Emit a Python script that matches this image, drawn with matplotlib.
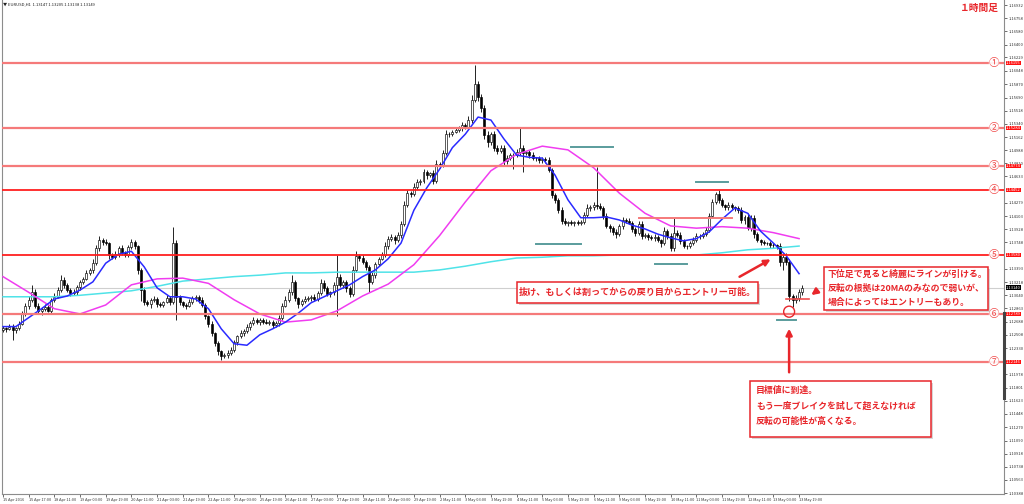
import numpy as np
import matplotlib
matplotlib.use("Agg")
import matplotlib.pyplot as plt
import matplotlib.transforms as mtransforms
from matplotlib.patches import Rectangle, Ellipse

plt.rcParams['font.family'] = ['Noto Sans CJK JP', 'DejaVu Sans']

# ---------------- data (EURUSD, 2 bars per label step of 16h) ----------------
title_text = "▼ EURUSD,H1  1.13147 1.13205 1.13138 1.13149"

first_open = 1.1258
closes = [
    1.1260, 1.1259, 1.1262, 1.1258, 1.1260, 1.1266, 1.1279, 1.1290, 1.1298, 1.1308,
    1.1290, 1.1283, 1.1286, 1.1288, 1.1283, 1.1298, 1.1302, 1.1311, 1.1325, 1.1318,
    1.1311, 1.1307, 1.1308, 1.1315, 1.1322, 1.1326, 1.1334, 1.1338, 1.1347, 1.1367,
    1.1378, 1.1375, 1.1374, 1.1358, 1.1355, 1.1359, 1.1367, 1.1361, 1.1358, 1.1369,
    1.1375, 1.1370, 1.1338, 1.1311, 1.1295, 1.1292, 1.1298, 1.1299, 1.1292, 1.1291,
    1.1295, 1.1300, 1.1295, 1.1374, 1.1302, 1.1295, 1.1291, 1.1290, 1.1295, 1.1300,
    1.1302, 1.1298, 1.1291, 1.1276, 1.1266, 1.1253, 1.1240, 1.1229, 1.1223, 1.1224,
    1.1227, 1.1231, 1.1241, 1.1249, 1.1253, 1.1256, 1.1262, 1.1267, 1.1271, 1.1268,
    1.1271, 1.1268, 1.1267, 1.1268, 1.1264, 1.1267, 1.1274, 1.1290, 1.1298, 1.1308,
    1.1322, 1.1300, 1.1292, 1.1296, 1.1299, 1.1300, 1.1302, 1.1299, 1.1307, 1.1321,
    1.1314, 1.1306, 1.1308, 1.1318, 1.1329, 1.1318, 1.1322, 1.1314, 1.1306, 1.1338,
    1.1357, 1.1354, 1.1349, 1.1342, 1.1322, 1.1331, 1.1346, 1.1353, 1.1358, 1.1370,
    1.1380, 1.1382, 1.1378, 1.1385, 1.1400, 1.1425, 1.1441, 1.1440, 1.1449, 1.1456,
    1.1457, 1.1469, 1.1465, 1.1468, 1.1457, 1.1480, 1.1479, 1.1495, 1.1520, 1.1520,
    1.1523, 1.1526, 1.1528, 1.1532, 1.1530, 1.1539, 1.1566, 1.1587, 1.1570, 1.1555,
    1.1519, 1.1509, 1.1520, 1.1502, 1.1498, 1.1502, 1.1484, 1.1488, 1.1492, 1.1492,
    1.1496, 1.1502, 1.1495, 1.1496, 1.1492, 1.1488, 1.1488, 1.1485, 1.1487, 1.1485,
    1.1472, 1.1439, 1.1432, 1.1418, 1.1404, 1.1401, 1.1402, 1.1401, 1.1402, 1.1401,
    1.1402, 1.1412, 1.1421, 1.1422, 1.1425, 1.1424, 1.1421, 1.1410, 1.1397, 1.1394,
    1.1389, 1.1386, 1.1397, 1.1405, 1.1404, 1.1401, 1.1393, 1.1388, 1.1400, 1.1384,
    1.1385, 1.1382, 1.1381, 1.1382, 1.1378, 1.1374, 1.1390, 1.1384, 1.1367, 1.1388,
    1.1385, 1.1377, 1.1370, 1.1370, 1.1374, 1.1378, 1.1384, 1.1384, 1.1386, 1.1392,
    1.1410, 1.1429, 1.1440, 1.1432, 1.1425, 1.1422, 1.1425, 1.1422, 1.1421, 1.1418,
    1.1405, 1.1409, 1.1394, 1.1408, 1.1386, 1.1378, 1.1375, 1.1374, 1.1374, 1.1371,
    1.1371, 1.1370, 1.1349, 1.1355, 1.1349, 1.1303, 1.1298, 1.1300, 1.1308, 1.1314,
]
# wick lengths in pips beyond the candle body
wick_up = [
    3, 2, 4, 3, 2, 3, 4, 3, 5, 10,
    4, 3, 2, 4, 3, 3, 5, 4, 6, 3,
    2, 3, 4, 3, 2, 3, 4, 3, 5, 4,
    6, 3, 4, 2, 3, 4, 3, 5, 2, 3,
    4, 3, 2, 3, 4, 3, 2, 4, 3, 3,
    2, 4, 3, 22, 4, 3, 2, 3, 4, 3,
    3, 2, 4, 3, 2, 3, 2, 3, 2, 3,
    3, 4, 3, 2, 4, 3, 3, 2, 4, 3,
    3, 2, 4, 3, 3, 2, 3, 4, 5, 4,
    9, 3, 2, 3, 4, 3, 2, 4, 3, 5,
    4, 3, 2, 4, 29, 4, 3, 2, 3, 5,
    6, 3, 4, 2, 3, 4, 3, 3, 4, 5,
    3, 4, 3, 4, 3, 5, 4, 3, 5, 4,
    3, 4, 3, 2, 4, 5, 3, 4, 6, 3,
    3, 4, 3, 4, 3, 5, 6, 26, 5, 4,
    4, 5, 3, 4, 3, 4, 3, 4, 3, 3,
    4, 26, 3, 2, 3, 4, 2, 3, 2, 3,
    4, 3, 2, 3, 4, 3, 2, 3, 2, 3,
    3, 4, 5, 3, 4, 51, 4, 3, 4, 3,
    3, 4, 3, 4, 3, 4, 3, 2, 4, 3,
    3, 2, 3, 4, 3, 2, 5, 3, 4, 20,
    3, 4, 3, 2, 3, 4, 3, 2, 3, 4,
    5, 4, 3, 5, 3, 2, 4, 3, 2, 3,
    4, 3, 5, 3, 4, 3, 2, 3, 2, 3,
    3, 2, 4, 5, 6, 4, 3, 4, 5, 4,
]
wick_dn = [
    3, 4, 2, 14, 4, 3, 2, 3, 4, 3,
    3, 4, 5, 3, 2, 4, 3, 2, 3, 4,
    3, 4, 2, 3, 4, 3, 2, 3, 4, 3,
    3, 4, 3, 5, 3, 2, 4, 3, 3, 2,
    3, 4, 6, 15, 4, 3, 5, 3, 4, 3,
    3, 2, 4, 3, 31, 4, 3, 5, 2, 3,
    3, 4, 3, 4, 5, 3, 4, 5, 6, 3,
    4, 3, 3, 4, 2, 3, 3, 4, 3, 2,
    4, 3, 2, 3, 4, 3, 4, 3, 2, 3,
    3, 4, 5, 3, 2, 3, 4, 3, 3, 2,
    4, 3, 4, 3, 42, 3, 4, 5, 4, 3,
    3, 4, 3, 4, 14, 3, 4, 3, 2, 3,
    4, 3, 5, 3, 4, 3, 2, 4, 3, 3,
    4, 3, 5, 3, 4, 3, 4, 3, 3, 4,
    3, 2, 3, 4, 3, 3, 4, 3, 6, 5,
    5, 6, 4, 5, 4, 3, 5, 4, 3, 18,
    3, 4, 25, 3, 4, 3, 4, 3, 4, 3,
    3, 5, 4, 3, 5, 3, 4, 3, 4, 3,
    3, 2, 3, 4, 3, 4, 3, 4, 3, 5,
    4, 5, 3, 4, 3, 2, 4, 5, 3, 4,
    3, 4, 3, 4, 3, 5, 3, 4, 3, 4,
    3, 4, 3, 4, 3, 2, 3, 4, 3, 2,
    3, 2, 3, 4, 3, 4, 3, 2, 4, 3,
    4, 5, 3, 4, 5, 3, 4, 3, 3, 4,
    3, 4, 6, 11, 5, 6, 10, 4, 3, 4,
]

# moving averages (fast: every 4 bars, others every 8 bars)
ma_fast = [
    1.1262, 1.1262, 1.1274, 1.1286, 1.1299, 1.1303, 1.1311, 1.1322, 1.1347, 1.1359,
    1.1363, 1.1342, 1.1314, 1.1302, 1.1302, 1.1299, 1.1286, 1.1259, 1.1239, 1.1237,
    1.1251, 1.1259, 1.1268, 1.1280, 1.1294, 1.1302, 1.1310, 1.1318, 1.1329, 1.1338,
    1.1353, 1.1374, 1.1418, 1.1448, 1.1473, 1.1502, 1.1520, 1.1543, 1.1539, 1.1514,
    1.1492, 1.1489, 1.1488, 1.1465, 1.1432, 1.1408, 1.1408, 1.1409, 1.1405, 1.1398,
    1.1393, 1.1386, 1.1381, 1.1377, 1.1380, 1.1389, 1.1406, 1.1421, 1.1414, 1.1390,
    1.1374, 1.1357, 1.1333,
]
ma_mid = [
    1.1329, 1.1308, 1.1286, 1.1279, 1.1291, 1.1318, 1.1326, 1.1327, 1.1320, 1.1298,
    1.1279, 1.1268, 1.1271, 1.1283, 1.1303, 1.1319, 1.1345, 1.1384, 1.1429, 1.1471,
    1.1493, 1.1504, 1.1499, 1.1475, 1.1441, 1.1414, 1.1397, 1.1394, 1.1396, 1.1394,
    1.1388, 1.1380,
]
ma_slow = [
    1.1302, 1.1302, 1.1302, 1.1304, 1.1307, 1.1310, 1.1316, 1.1323, 1.1326, 1.1329,
    1.1331, 1.1334, 1.1334, 1.1335, 1.1335, 1.1335, 1.1335, 1.1338, 1.1343, 1.1349,
    1.1354, 1.1355, 1.1357, 1.1357, 1.1358, 1.1358, 1.1358, 1.1358, 1.1361, 1.1365,
    1.1367, 1.1370,
]

levels = [1.16155, 1.15284, 1.14774, 1.14452, 1.13580, 1.12789, 1.12146]
level_names = ['①', '②', '③', '④', '⑤', '⑥', '⑦']

# right axis scale labels (the ones hidden under the level tags are left out)
price_ticks = [
    1.16932, 1.16758, 1.16580, 1.16400, 1.16229, 1.16048, 1.15870, 1.15690,
    1.15518, 1.15340, 1.15162, 1.14988, 1.14810, 1.14633, 1.14279,
    1.14103, 1.13928, 1.13748, 1.13393, 1.13218, 1.13040, 1.12863,
    1.12688, 1.12508, 1.12330, 1.11978, 1.11801, 1.11623, 1.11448,
    1.11270, 1.11090, 1.10918, 1.10738, 1.10563, 1.10388,
]
time_labels = [
    "15 Apr 2016", "15 Apr 17:00", "18 Apr 11:00", "19 Apr 03:00", "19 Apr 19:00",
    "20 Apr 11:00", "21 Apr 03:00", "21 Apr 19:00", "22 Apr 11:00", "25 Apr 03:00",
    "25 Apr 19:00", "26 Apr 11:00", "27 Apr 03:00", "27 Apr 19:00", "28 Apr 11:00",
    "29 Apr 03:00", "29 Apr 19:00", "2 May 11:00", "3 May 03:00", "3 May 19:00",
    "4 May 11:00", "5 May 03:00", "5 May 19:00", "6 May 11:00", "9 May 03:00",
    "9 May 19:00", "10 May 11:00", "11 May 03:00", "11 May 19:00", "12 May 11:00",
    "13 May 03:00", "13 May 19:00",
]

# hand drawn support / resistance marks: (price, first bar, last bar)
teal_marks = [(1.1373, 166, 180), (1.1503, 177, 190), (1.1346, 203, 213),
              (1.1456, 216, 226), (1.1271, 241, 247)]
pink_mark = (1.1408, 198, 227)
small_mark = (1.1299, 244, 251)

box1_text = "抜け、もしくは割ってからの戻り目からエントリー可能。"
box2_lines = ["下位足で見ると綺麗にラインが引ける。",
              "反転の根拠は20MAのみなので弱いが、",
              "場合によってはエントリーもあり。"]
box3_lines = ["目標値に到達。",
              "もう一度ブレイクを試して超えなければ",
              "反転の可能性が高くなる。"]

# ---------------- figure ----------------
W, H = 1024, 504
red = '#e8262b'
fig = plt.figure(figsize=(W / 100, H / 100), dpi=100)
ax = fig.add_axes([2 / W, 10 / H, 1002 / W, 494 / H])
ax.set_xlim(-0.31, 311.84)
ax.set_ylim(1.10375, 1.17)

n = len(closes)
x = np.arange(n)
c = np.array(closes)
o = np.array([first_open] + closes[:-1])
hi = np.maximum(o, c) + np.array(wick_up) * 0.0001
lo = np.minimum(o, c) - np.array(wick_dn) * 0.0001
up = c >= o

ax.vlines(x, lo, hi, color='black', lw=0.6, zorder=3)
ax.bar(x[up], (c - o)[up], bottom=o[up], width=0.62, color='white',
       edgecolor='black', lw=0.45, zorder=3.5)
ax.bar(x[~up], (o - c)[~up], bottom=c[~up], width=0.62, color='black',
       edgecolor='black', lw=0.45, zorder=3.5)

# moving averages
ax.plot(np.arange(len(ma_slow)) * 8, ma_slow, color='#4fe3e8', lw=1.1, zorder=4)
ax.plot(np.arange(len(ma_mid)) * 8, ma_mid, color='#f03cf0', lw=1.1, zorder=4)
ax.plot(np.arange(len(ma_fast)) * 4, ma_fast, color='#2a2aff', lw=1.1, zorder=4)

# current price line
ax.axhline(closes[-1], color='#cfcfcf', lw=0.8, zorder=2)

# horizontal levels
bright = [False, False, False, True, True, False, False]
blend = mtransforms.blended_transform_factory(ax.transAxes, ax.transData)
for lv, name, b in zip(levels, level_names, bright):
    col = '#ff2020' if b else '#f57a7a'
    ax.axhline(lv, color=col, lw=1.3 if b else 1.6, zorder=5)
    ax.text(0.990, lv, name, transform=blend, ha='center', va='center',
            fontsize=7.5, color='#f04848', zorder=7,
            bbox=dict(boxstyle='circle,pad=0.0', fc='white', ec='none', alpha=0.9))
    ax.text(1.002, lv, f'{lv:.5f}', transform=blend, ha='left', va='center',
            fontsize=3.0, color='white', zorder=8, clip_on=False,
            bbox=dict(boxstyle='square,pad=0.1', fc='#ff1010', ec='none'))

ax.text(1.002, closes[-1], f'{closes[-1]:.5f}', transform=blend, ha='left',
        va='center', fontsize=3.0, color='white', zorder=8, clip_on=False,
        bbox=dict(boxstyle='square,pad=0.1', fc='black', ec='none'))
ax.plot([1.0, 1.0], [1.1280, 1.1166], transform=blend, color='#444444',
        lw=2.2, clip_on=False, zorder=6)

for lv, a, b in teal_marks:
    ax.plot([a, b], [lv, lv], color='#5a9c9c', lw=1.4, zorder=5)
ax.plot([pink_mark[1], pink_mark[2]], [pink_mark[0]] * 2, color='#f57a7a', lw=1.4, zorder=5)
ax.plot([small_mark[1], small_mark[2]], [small_mark[0]] * 2, color='#f05050', lw=1.2, zorder=6)

# arrows and circle
arrow = dict(arrowstyle='-|>', color=red, lw=1.8, mutation_scale=9)
ax.annotate('', xy=(239.9, 1.1354), xytext=(228.7, 1.1327), arrowprops=arrow, zorder=9)
ax.annotate('', xy=(251.1, 1.1302), xytext=(253.9, 1.1311), arrowprops=arrow, zorder=9)
ax.annotate('', xy=(244.9, 1.1263), xytext=(244.9, 1.1197), arrowprops=arrow, zorder=9)
ax.add_patch(Ellipse((244.9, 1.1282), 3.4, 0.00148, fill=False, ec=red, lw=1.0, zorder=9))

# axes styling
for s in ['left', 'right', 'bottom']:
    ax.spines[s].set_color('#8c8c8c')
    ax.spines[s].set_linewidth(0.8)
ax.spines['top'].set_visible(False)
ax.yaxis.tick_right()
ax.set_yticks(price_ticks)
ax.set_yticklabels([f'{v:.5f}' for v in price_ticks])
ax.tick_params(axis='y', labelsize=3.0, length=2, width=0.5, pad=1.5, colors='#333333')
ax.set_xticks(np.arange(len(time_labels)) * 8)
ax.set_xticklabels(time_labels, ha='left')
ax.tick_params(axis='x', labelsize=2.8, length=2, width=0.5, pad=1, colors='#333333')

fig.text(3 / W, 1 - 4 / H, title_text, fontsize=3.0, va='center', ha='left', color='#222222')
fig.text(979 / W, 1 - 8 / H, '１時間足', fontsize=7, fontweight='bold', color=red,
         ha='center', va='center')


def note_box(x0, y0, x1, y1):
    fig.add_artist(Rectangle(((x0 + 2) / W, 1 - (y1 + 2) / H), (x1 - x0) / W, (y1 - y0) / H,
                             transform=fig.transFigure, fc='#b0b0b0', ec='none', alpha=0.5))
    fig.add_artist(Rectangle((x0 / W, 1 - y1 / H), (x1 - x0) / W, (y1 - y0) / H,
                             transform=fig.transFigure, fc='white', ec=red, lw=1.1))


note_box(517, 282, 758, 303)
fig.text(637.5 / W, 1 - 292.5 / H, box1_text, fontsize=6.6, fontweight='bold',
         color=red, ha='center', va='center')

note_box(824, 267, 988, 310)
for line, yy in zip(box2_lines, [274, 288, 302]):
    fig.text(828 / W, 1 - yy / H, line, fontsize=6.4, fontweight='bold',
             color=red, ha='left', va='center')

note_box(750, 381, 931, 437)
for line, yy in zip(box3_lines, [390, 406, 421]):
    fig.text(756 / W, 1 - yy / H, line, fontsize=6.4, fontweight='bold',
             color=red, ha='left', va='center')

fig.savefig('out.png', dpi=100)
